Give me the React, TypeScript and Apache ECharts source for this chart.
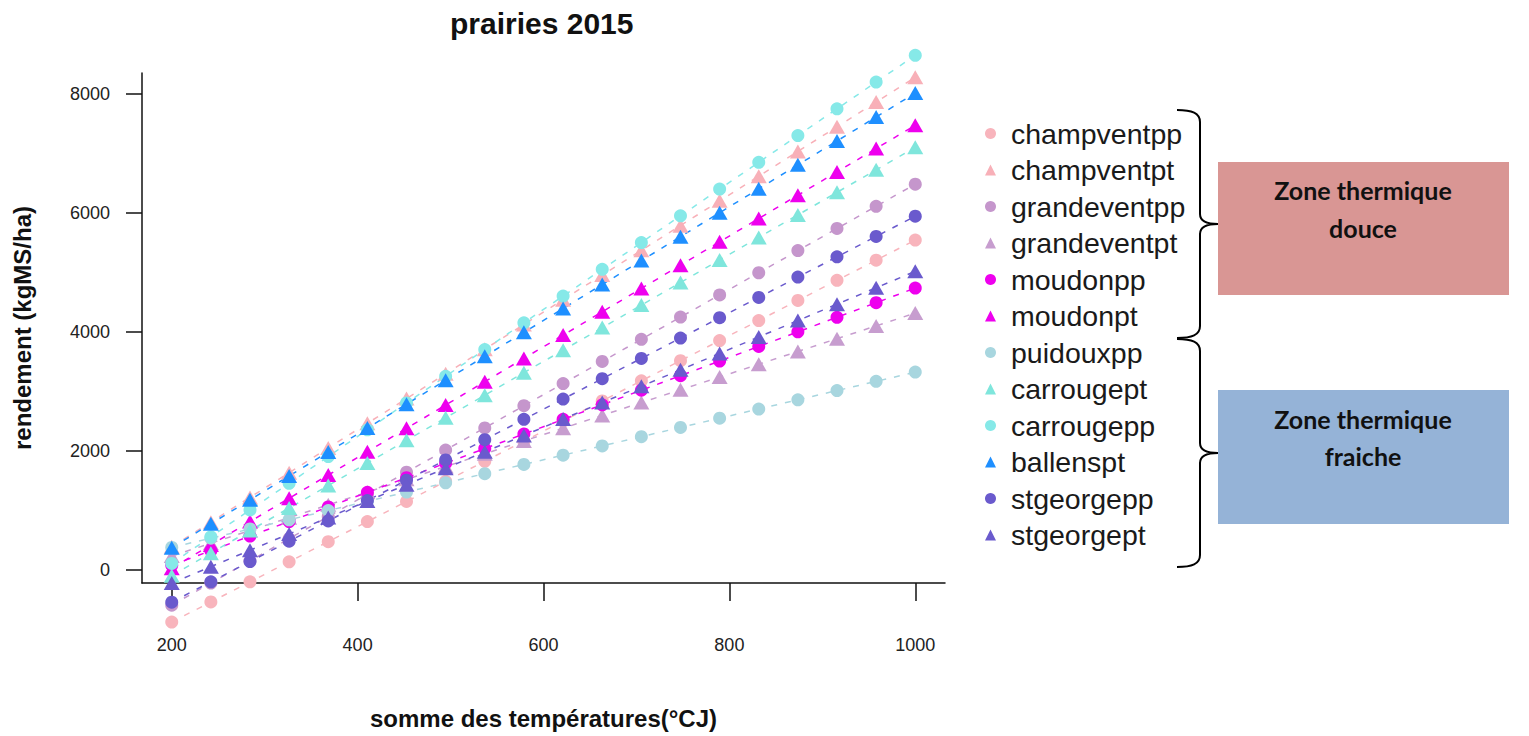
import React, { useEffect, useRef } from 'react';
import * as echarts from 'echarts';

// temperature sums (x)
const X = [200, 242.1, 284.2, 326.3, 368.4, 410.5, 452.6, 494.7, 536.8, 578.9, 621.1, 663.2, 705.3, 747.4, 789.5, 831.6, 873.7, 915.8, 957.9, 1000];

const NAMES = ['champventpp', 'champventpt', 'grandeventpp', 'grandeventpt', 'moudonpp', 'moudonpt', 'puidouxpp', 'carrougept', 'carrougepp', 'ballenspt', 'stgeorgepp', 'stgeorgept'];

const champventpp = [-875, -537, -199, 139, 477, 814, 1152, 1490, 1828, 2166, 2504, 2842, 3180, 3518, 3856, 4193, 4531, 4869, 5207, 5545];
const champventpt = [390, 805, 1221, 1636, 2051, 2466, 2882, 3297, 3712, 4127, 4543, 4958, 5373, 5788, 6204, 6619, 7034, 7449, 7865, 8280];
const grandeventpp = [-590, -218, 155, 527, 899, 1272, 1644, 2017, 2389, 2761, 3134, 3506, 3878, 4251, 4623, 4996, 5368, 5740, 6113, 6485];
const grandeventpt = [235, 450, 665, 880, 1095, 1309, 1524, 1739, 1954, 2169, 2384, 2599, 2814, 3029, 3243, 3458, 3673, 3888, 4103, 4318];
const moudonpp = [80, 325, 570, 815, 1061, 1306, 1551, 1796, 2041, 2286, 2532, 2777, 3022, 3267, 3512, 3757, 4003, 4248, 4493, 4738];
const moudonpt = [30, 422, 814, 1206, 1597, 1989, 2381, 2773, 3165, 3557, 3948, 4340, 4732, 5124, 5516, 5908, 6300, 6691, 7083, 7475];
const puidouxpp = [380, 535, 690, 845, 1000, 1155, 1310, 1465, 1620, 1775, 1931, 2086, 2241, 2396, 2551, 2706, 2861, 3016, 3171, 3326];
const carrougept = [-95, 284, 663, 1042, 1421, 1800, 2179, 2558, 2937, 3316, 3695, 4074, 4453, 4832, 5211, 5589, 5968, 6347, 6726, 7105];
const carrougepp = [110, 559, 1009, 1458, 1908, 2357, 2807, 3256, 3706, 4155, 4605, 5054, 5504, 5953, 6403, 6852, 7302, 7751, 8201, 8650];
const ballenspt = [375, 777, 1179, 1581, 1983, 2386, 2788, 3190, 3592, 3994, 4396, 4798, 5200, 5602, 6005, 6407, 6809, 7211, 7613, 8015];
const stgeorgepp = [-540, -199, 143, 484, 826, 1167, 1509, 1850, 2191, 2533, 2874, 3216, 3557, 3898, 4240, 4581, 4923, 5264, 5606, 5947];
const stgeorgept = [-220, 56, 332, 607, 883, 1159, 1435, 1711, 1986, 2262, 2538, 2814, 3089, 3365, 3641, 3917, 4193, 4468, 4744, 5020];

const VALUES = [champventpp, champventpt, grandeventpp, grandeventpt, moudonpp, moudonpt, puidouxpp, carrougept, carrougepp, ballenspt, stgeorgepp, stgeorgept];
const COLORS = ['#F8B4BC', '#F8B0B8', '#C596CC', '#C79DCF', '#EE00EE', '#EE00EE', '#A8D6DF', '#7FE6DC', '#86E9E8', '#1E8FFF', '#6A5ACD', '#6A5ACD'];
const SHAPES = ['circle', 'triangle', 'circle', 'triangle', 'circle', 'triangle', 'circle', 'triangle', 'circle', 'triangle', 'circle', 'triangle'];

const X_TICKS = [200, 400, 600, 800, 1000];
const Y_TICKS = [0, 2000, 4000, 6000, 8000];

const BH = 228;
const braceD = `M0,0 C15,0 23,3 23,12 L23,${BH / 2 - 10} C23,${BH / 2 - 3} 30,${BH / 2} 41,${BH / 2} C30,${BH / 2} 23,${BH / 2 + 3} 23,${BH / 2 + 10} L23,${BH - 12} C23,${BH - 3} 15,${BH} 0,${BH}`;
echarts.graphic.registerShape('brace', echarts.graphic.extendPath(braceD, {}));

export default function App() {
  const ref = useRef<HTMLDivElement>(null);
  useEffect(() => {
    if (!ref.current) return;
    const chart = echarts.init(ref.current, null, { renderer: 'svg' });
    const series = NAMES.map((name, i) => ({
      name,
      type: 'line',
      clip: false,
      data: X.map((x, j) => [x, VALUES[i][j]]),
      symbol: SHAPES[i],
      symbolSize: SHAPES[i] === 'circle' ? 13 : [16, 14],
      showAllSymbol: true,
      itemStyle: { color: COLORS[i] },
      lineStyle: { color: COLORS[i], width: 1.5, type: [6, 8] },
      emphasis: { disabled: true },
    }));
    const labelFont = { fontFamily: 'Liberation Sans', fontSize: 18, color: '#222' };
    chart.setOption({
      animation: false,
      backgroundColor: '#fff',
      title: {
        text: 'prairies 2015',
        left: 450,
        top: 8,
        padding: 0,
        textStyle: { fontFamily: 'Liberation Sans', fontWeight: 'bold', fontSize: 30, color: '#111' },
      },
      grid: { left: 142, top: 73, width: 803, height: 510, containLabel: false },
      xAxis: {
        type: 'value',
        min: 168,
        max: 1032,
        name: 'somme des températures(°CJ)',
        nameLocation: 'middle',
        nameGap: 123,
        nameTextStyle: { fontFamily: 'Liberation Sans', fontWeight: 'bold', fontSize: 24, color: '#111' },
        axisLine: { show: true, onZero: false, lineStyle: { color: '#111', width: 1.5 } },
        axisTick: { show: true, customValues: X_TICKS, length: 18, lineStyle: { color: '#111', width: 1.5 } },
        axisLabel: { customValues: X_TICKS, margin: 53, formatter: (v: number) => String(v), ...labelFont },
        splitLine: { show: false },
      },
      yAxis: {
        type: 'value',
        min: -218,
        max: 8353,
        name: 'rendement (kgMS/ha)',
        nameLocation: 'middle',
        nameGap: 108,
        nameTextStyle: { fontFamily: 'Liberation Sans', fontWeight: 'bold', fontSize: 24, color: '#111' },
        axisLine: { show: true, onZero: false, lineStyle: { color: '#111', width: 1.5 } },
        axisTick: { show: true, customValues: Y_TICKS, length: 16, lineStyle: { color: '#111', width: 1.5 } },
        axisLabel: { customValues: Y_TICKS, margin: 32, formatter: (v: number) => String(v), ...labelFont },
        splitLine: { show: false },
      },
      legend: {
        orient: 'vertical',
        left: 985,
        top: 119,
        padding: 0,
        itemGap: 7.5,
        itemWidth: 11,
        itemHeight: 11,
        selectedMode: false,
        data: NAMES.map((n, i) => ({ name: n, icon: SHAPES[i] })),
        textStyle: { fontFamily: 'Liberation Sans', fontSize: 28.5, lineHeight: 28, color: '#1a1a1a', padding: [0, 0, 0, 10] },
      },
      graphic: [
        { type: 'brace', x: 1177, y: 110, style: { fill: 'none', stroke: '#000', lineWidth: 2 } },
        { type: 'brace', x: 1177, y: 339, style: { fill: 'none', stroke: '#000', lineWidth: 2 } },
        { type: 'rect', shape: { x: 1218, y: 162, width: 291, height: 133 }, style: { fill: '#D99694' } },
        { type: 'rect', shape: { x: 1218, y: 390, width: 291, height: 134 }, style: { fill: '#95B3D7' } },
        { type: 'text', x: 1363, y: 190, style: { text: 'Zone thermique', fontFamily: 'Lato', fontWeight: 'bold', fontSize: 25, fill: '#111', textAlign: 'center', textVerticalAlign: 'middle' } },
        { type: 'text', x: 1363, y: 228, style: { text: 'douce', fontFamily: 'Lato', fontWeight: 'bold', fontSize: 25, fill: '#111', textAlign: 'center', textVerticalAlign: 'middle' } },
        { type: 'text', x: 1363, y: 419, style: { text: 'Zone thermique', fontFamily: 'Lato', fontWeight: 'bold', fontSize: 25, fill: '#111', textAlign: 'center', textVerticalAlign: 'middle' } },
        { type: 'text', x: 1363, y: 456, style: { text: 'fraiche', fontFamily: 'Lato', fontWeight: 'bold', fontSize: 25, fill: '#111', textAlign: 'center', textVerticalAlign: 'middle' } },
      ],
      series,
    });
    return () => chart.dispose();
  }, []);
  return <div ref={ref} style={{ position: 'fixed', left: 0, top: 0, width: 1529, height: 736 }} />;
}
